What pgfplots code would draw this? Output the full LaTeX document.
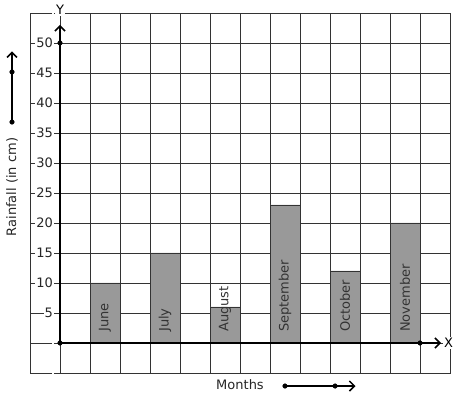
\documentclass[border=0pt]{standalone}
\usepackage{fontspec}
\setmainfont{DejaVu Sans}
\usepackage{pgfplots}
\pgfplotsset{compat=1.18}
\usetikzlibrary{arrows.meta}
\begin{document}
\begin{tikzpicture}
\begin{axis}[
  scale only axis, width=420pt, height=360pt,
  xmin=-1, xmax=13, ymin=-5, ymax=55,
  xtick={-1,0,...,13}, ytick={-5,0,...,55},
  xticklabels={,,,,,,,,,,,,,,,},
  yticklabels={,,5,10,15,20,25,30,35,40,45,50,},
  grid=major, major grid style={draw=black!80, line width=0.8pt},
  axis line style={draw=black!80, line width=0.8pt},
  major tick length=0pt,
  yticklabel style={font=\fontsize{13}{15}\selectfont, fill=white, inner sep=1pt, xshift=24pt, text=black!85},
  clip=false,
]
\addplot[ybar, bar width=1, fill=black!40, draw=black!80, line width=0.8pt]
  coordinates {(1.5,10) (3.5,15) (5.5,6) (7.5,23) (9.5,12) (11.5,20)};
% axes
\addplot[line width=2.2pt, -{Straight Barb[length=5pt,width=10pt,line width=1.5pt]}] coordinates {(0,0) (12.7,0)};
\addplot[line width=2.2pt, -{Straight Barb[length=5pt,width=10pt,line width=1.5pt]}] coordinates {(0,0) (0,53)};
\addplot[only marks, mark=*, mark size=2.3pt, black] coordinates {(0,0) (0,50) (12,0)};
% decorative arrows
\addplot[line width=1.8pt, -{Straight Barb[length=5pt,width=10pt,line width=1.5pt]}] coordinates {(-1.6,36.83) (-1.6,48.6)};
\addplot[only marks, mark=*, mark size=2.3pt, black] coordinates {(-1.6,36.83) (-1.6,45.17)};
\addplot[line width=1.8pt, -{Straight Barb[length=5pt,width=10pt,line width=1.5pt]}] coordinates {(7.5,-7.17) (9.85,-7.17)};
\addplot[only marks, mark=*, mark size=2.3pt, black] coordinates {(7.5,-7.17) (9.17,-7.17)};
% labels
\node[fill=white, inner sep=1pt, font=\fontsize{13}{15}\selectfont] at (axis cs:0,55.5) {Y};
\node[fill=white, inner sep=1pt, font=\fontsize{13}{15}\selectfont] at (axis cs:12.95,0) {X};
\node[font=\fontsize{13}{15}\selectfont, text=black!85] at (axis cs:6,-7) {Months};
\node[rotate=90, font=\fontsize{13}{15}\selectfont, text=black!85] at (axis cs:-1.6,26) {Rainfall (in cm)};
\foreach \x/\m in {1.5/June,3.5/July,5.5/August,7.5/September,9.5/October,11.5/November}{
  \edef\tmp{\noexpand\node[rotate=90, anchor=west, inner sep=2pt, font=\noexpand\fontsize{13}{15}\noexpand\selectfont, text=black!80] at (axis cs:\x,1.5) {\m};}
  \tmp
}
\path (axis cs:-2,-9.3333) rectangle (axis cs:13.2333,57.1667);
\end{axis}
\end{tikzpicture}
\end{document}
